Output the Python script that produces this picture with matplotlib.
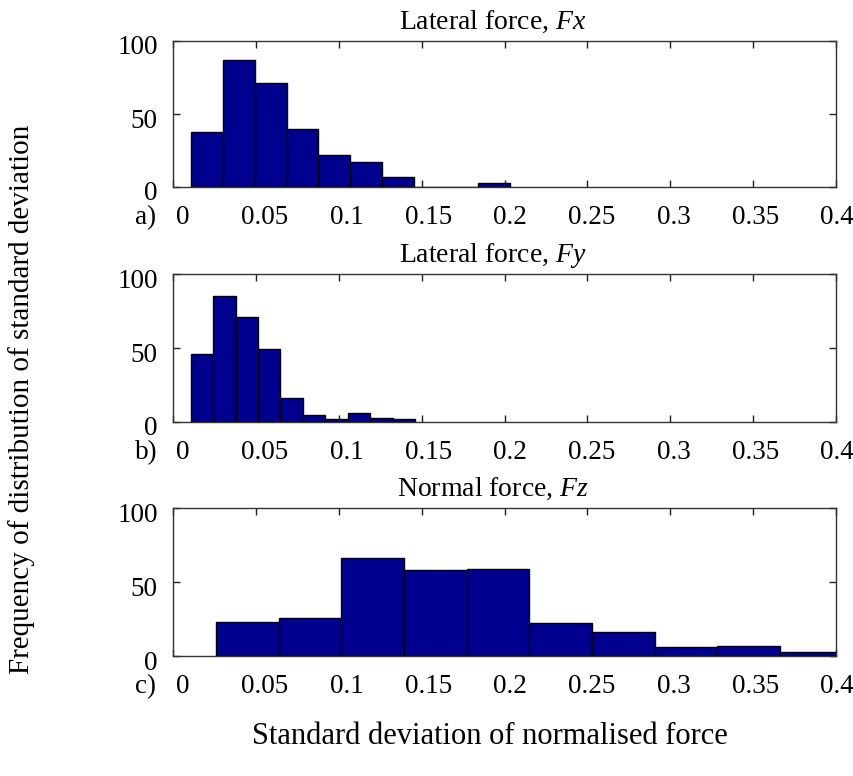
import numpy as np
import matplotlib
matplotlib.use("Agg")
import matplotlib.pyplot as plt
import matplotlib.transforms as mtransforms

plt.rcParams['font.family'] = ['Liberation Serif', 'DejaVu Serif']
plt.rcParams['mathtext.fontset'] = 'custom'
plt.rcParams['mathtext.rm'] = 'Liberation Serif'
plt.rcParams['mathtext.it'] = 'Liberation Serif:italic'

# histogram counts (10 bins per panel)
counts_fx = [38, 87, 71, 40, 22, 17, 7, 0, 0, 3]
counts_fy = [46, 85, 71, 49, 16, 5, 2, 6, 3, 2]
counts_fz = [23, 26, 66, 58, 59, 22, 16, 6, 7, 3]

# first bin edge and bin width of each histogram
start_fx, width_fx = 0.0107, 0.01927
start_fy, width_fy = 0.0107, 0.01353
start_fz, width_fz = 0.0260, 0.03780

titles = ['Lateral force, $\\mathit{Fx}$', 'Lateral force, $\\mathit{Fy}$',
          'Normal force, $\\mathit{Fz}$']
panel_tags = ['a)', 'b)', 'c)']
xticks = [0, 0.05, 0.1, 0.15, 0.2, 0.25, 0.3, 0.35, 0.4]
xticklabels = ['0', '0.05', '0.1', '0.15', '0.2', '0.25', '0.3', '0.35', '0.4']
yticks = [0, 50, 100]

bar_color = '#00008f'
W, H = 854, 776
fig = plt.figure(figsize=(W / 100, H / 100), dpi=100)

# axes boxes in pixels: (left, top, right, bottom)
boxes = [(173, 41, 836, 187), (173, 274, 836, 422), (173, 508, 836, 656)]
data = [(counts_fx, start_fx, width_fx),
        (counts_fy, start_fy, width_fy),
        (counts_fz, start_fz, width_fz)]

fs = 19.5
for (l, t, r, b), (cnt, s0, w), title, tag in zip(boxes, data, titles, panel_tags):
    ax = fig.add_axes([l / W, 1 - b / H, (r - l) / W, (b - t) / H])
    left_edges = s0 + w * np.arange(len(cnt))
    ax.bar(left_edges, cnt, width=w, align='edge', color=bar_color,
           edgecolor='black', linewidth=1.0, zorder=2)
    ax.set_xlim(0, 0.4)
    ax.set_ylim(0, 100)
    ax.set_xticks(xticks)
    ax.set_xticklabels(xticklabels)
    ax.set_yticks(yticks)
    ax.tick_params(direction='in', length=5, width=1, top=True, right=True,
                   labelsize=fs, colors='#222222', labelcolor='black')
    ax.tick_params(axis='x', pad=13)
    ax.tick_params(axis='y', pad=11)
    for sp in ax.spines.values():
        sp.set_color('#333333')
        sp.set_linewidth(1.0)
    ax.set_title(title, fontsize=20, pad=9, x=0.482)
    # tick labels are a little off their ticks in the original
    yoff = mtransforms.ScaledTranslation(0, -4 / 100, fig.dpi_scale_trans)
    for lab in ax.get_yticklabels():
        lab.set_transform(lab.get_transform() + yoff)
    labs = ax.get_xticklabels()
    for i, lab in enumerate(labs):
        dx = 10 - 9 * i / (len(labs) - 1)
        xoff = mtransforms.ScaledTranslation(dx / 100, 0, fig.dpi_scale_trans)
        lab.set_transform(lab.get_transform() + xoff)
    fig.text(146 / W, 1 - (b + 31) / H, tag, fontsize=fs, ha='center', va='center')

fig.text(490 / W, 1 - 737 / H, 'Standard deviation of normalised force',
         fontsize=22, ha='center', va='center')
fig.text(22 / W, 1 - 399 / H, 'Frequency of distribution of standard deviation',
         fontsize=21, ha='center', va='center', rotation=90)

fig.savefig('out.png', dpi=100)
